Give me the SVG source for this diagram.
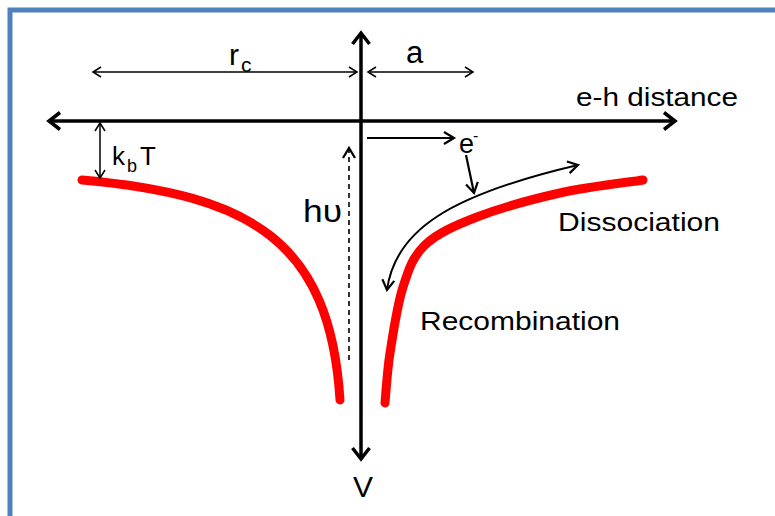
<svg xmlns="http://www.w3.org/2000/svg" width="775" height="516" viewBox="0 0 775 516">
<style>
.t{font-family:"Liberation Sans",Arial,sans-serif;fill:#000}
.ax{stroke:#000;stroke-width:3.5;fill:none}
.th{stroke:#000;stroke-width:1.5;fill:none}
.md{stroke:#000;stroke-width:2.2;fill:none}
.red{stroke:#FF0000;stroke-width:9;fill:none;stroke-linecap:round}
</style>
<defs>
<marker id="big" markerUnits="userSpaceOnUse" viewBox="-16 -12 20 24" refX="0" refY="0" markerWidth="20" markerHeight="24" orient="auto-start-reverse" overflow="visible">
<path d="M-11,-8.5 L0,0 L-11,8.5" fill="none" stroke="#000" stroke-width="3.5"/>
</marker>
<marker id="thin" markerUnits="userSpaceOnUse" viewBox="-10 -7 12 14" refX="0" refY="0" markerWidth="12" markerHeight="14" orient="auto-start-reverse" overflow="visible">
<path d="M-8,-5 L0,0 L-8,5" fill="none" stroke="#000" stroke-width="1.5"/>
</marker>
<marker id="mid" markerUnits="userSpaceOnUse" viewBox="-12 -8 14 16" refX="0" refY="0" markerWidth="14" markerHeight="16" orient="auto-start-reverse" overflow="visible">
<path d="M-10,-6 L0,0 L-10,6" fill="none" stroke="#000" stroke-width="2.2" stroke-dasharray="none"/>
</marker>
</defs>
<rect width="775" height="516" fill="#fff"/>
<g id="frame">
<path d="M10,516 V10 H775" fill="none" stroke="#4F81BD" stroke-width="5"/>
</g>
<g id="curves">
<path id="left-well" class="red" d="M82,180 C250,195 330,240 340,400"/>
<path id="right-well" class="red" d="M643,180 C629.2,182.2 587.7,186.8 560,193 C532.3,199.2 499.5,208.3 477,217 C454.5,225.7 437.3,233.3 425,245 C412.7,256.7 408.8,269 403,287 C397.2,305 393,333.7 390,353 C387,372.3 385.8,394.7 385,403"/>
</g>
<g id="connectors">
<line id="v-axis" class="ax" x1="361" y1="459" x2="361" y2="33" marker-start="url(#big)" marker-end="url(#big)"/>
<line id="h-axis" class="ax" x1="49" y1="121" x2="675" y2="121" marker-start="url(#big)" marker-end="url(#big)"/>
<line id="rc-dim" class="th" x1="93" y1="72" x2="357" y2="72" marker-start="url(#thin)" marker-end="url(#thin)"/>
<line id="a-dim" class="th" x1="368" y1="72" x2="473" y2="72" marker-start="url(#thin)" marker-end="url(#thin)"/>
<line id="kbt-dim" class="th" x1="100" y1="123" x2="100" y2="178" marker-start="url(#thin)" marker-end="url(#thin)"/>
<line id="e-arrow" class="md" x1="367" y1="138" x2="454" y2="138" marker-end="url(#mid)"/>
<line id="e-to-curve" class="md" x1="466" y1="155" x2="474" y2="193" marker-end="url(#mid)"/>
<path id="path-arrow" stroke="#000" stroke-width="2" fill="none" d="M387,290 C395,230 450,195 578,165" marker-start="url(#mid)" marker-end="url(#mid)"/>
<line id="hv-arrow" stroke="#000" stroke-width="1.6" stroke-dasharray="5 4" x1="349" y1="360" x2="349" y2="148" marker-end="url(#mid)"/>
</g>
<g id="labels">
<text class="t" x="229" y="65" font-size="30">r<tspan x="241" y="72" font-size="21">c</tspan></text>
<text class="t" x="406" y="63" font-size="31">a</text>
<text class="t" x="576" y="106" font-size="25" textLength="162" lengthAdjust="spacingAndGlyphs">e-h distance</text>
<text class="t" x="112" y="165" font-size="26">k<tspan x="127" y="172" font-size="18">b</tspan><tspan x="140" y="165" font-size="26">T</tspan></text>
<text class="t" x="459" y="153" font-size="27">e<tspan x="473" y="141" font-size="16">-</tspan></text>
<text class="t" x="303" y="222" font-size="32" textLength="39" lengthAdjust="spacingAndGlyphs">hυ</text>
<text class="t" x="558" y="231" font-size="26" textLength="162" lengthAdjust="spacingAndGlyphs">Dissociation</text>
<text class="t" x="420" y="330" font-size="25" textLength="200" lengthAdjust="spacingAndGlyphs">Recombination</text>
<text class="t" x="353" y="497" font-size="30">V</text>
</g>
</svg>
